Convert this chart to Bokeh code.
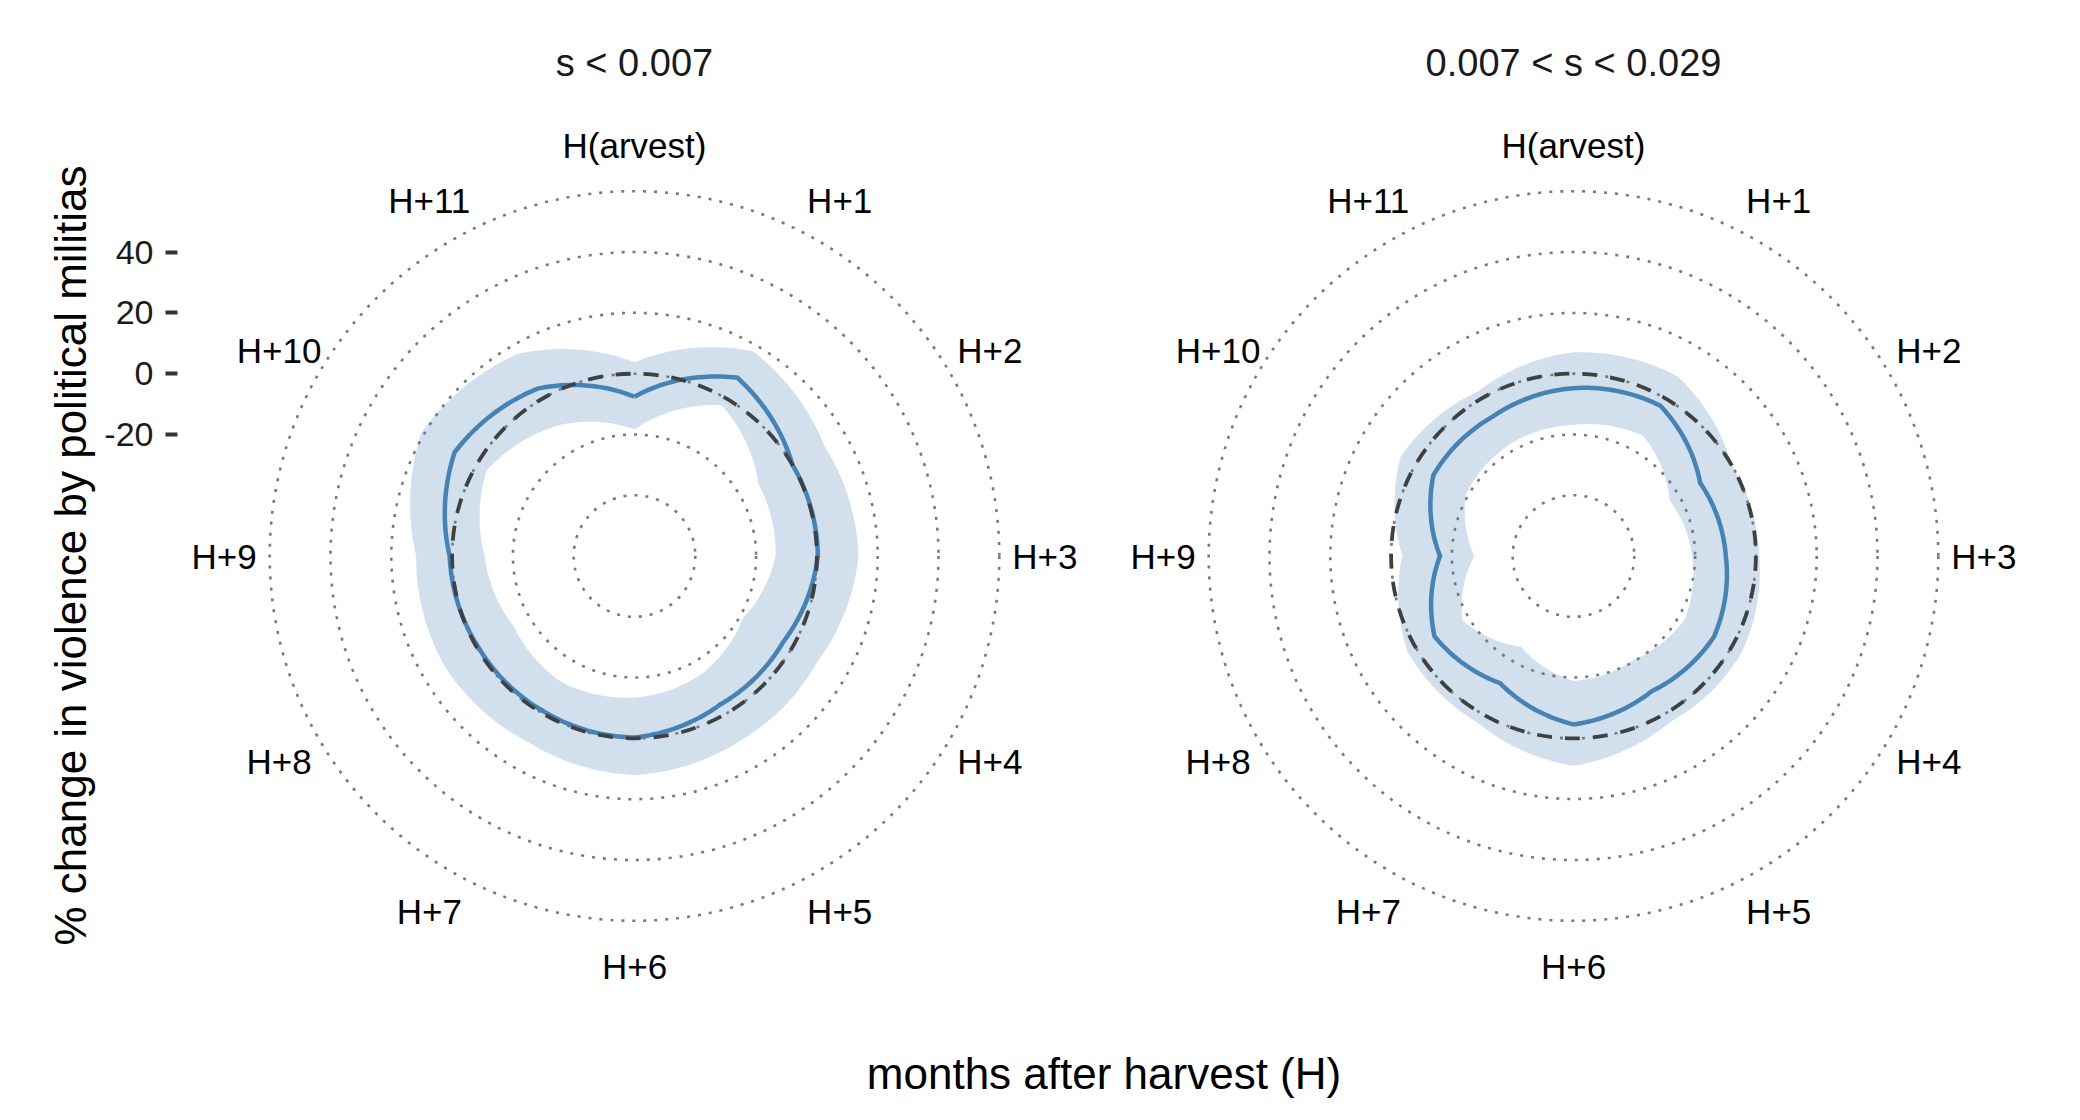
import numpy as np
from bokeh.plotting import figure
from bokeh.models import Range1d, FixedTicker
from bokeh.core.properties import value
from bokeh.embed import file_html
from bokeh.resources import INLINE

# ---------------- data ----------------
month_labels = ["H(arvest)", "H+1", "H+2", "H+3", "H+4", "H+5",
                "H+6", "H+7", "H+8", "H+9", "H+10", "H+11"]
months = list(range(12))

panel_titles = ["s < 0.007", "0.007 < s < 0.029"]

# panel 1 : s < 0.007
p1_mean = [-7.6, 7.7, 0.0, 0.3, -3.5, -3.6, -0.3, -0.8, -0.5, 0.8, 8.3, 3.6]
p1_lower = [-18.4, -2.7, -12.9, -13.6, -18.9, -15.4, -13.4, -12.1, -14.0, -10.7, -3.8, -10.3]
p1_upper = [3.7, 17.8, 12.2, 13.7, 9.5, 10.0, 12.0, 10.5, 12.2, 11.8, 21.0, 16.8]

# panel 2 : 0.007 < s < 0.029
p2_mean = [-4.8, -2.9, -11.9, -9.9, -6.7, -8.6, -4.6, -11.7, -7.2, -16.1, -6.8, -7.0]
p2_lower = [-16.9, -14.3, -23.5, -21.0, -17.9, -20.5, -18.9, -25.5, -17.8, -27.4, -19.2, -17.7]
p2_upper = [7.0, 8.3, 0.0, 1.1, 3.8, 3.2, 9.0, 3.2, 3.0, -3.7, 5.6, 2.6]

reference_value = 0
grid_breaks = [-40, -20, 0, 20, 40, 60]
y_ticks = [-20, 0, 20, 40]
y_tick_labels = ["-20", "0", "20", "40"]
r_limits = (-60, 60)

# ---------------- layout constants (pixels) ----------------
W, H = 2080, 1120
K = 3.04                 # pixels per data unit
FRAME_L, FRAME_B = 177, 10
CX_PX = [634, 1573]      # panel centres
CY_PX = 555.5

R_MIN, R_MAX = r_limits
CY = R_MIN               # y of the polar centre -> radial axis reads the value directly
centres_x = [(c - CX_PX[0]) / K for c in CX_PX]

x0 = (FRAME_L - CX_PX[0]) / K
x1 = (W - CX_PX[0]) / K
y1 = CY + CY_PX / K
y0 = CY - ((H - FRAME_B) - CY_PX) / K


def polar_path(vals, cx, n=30):
    v = np.asarray(list(vals) + [vals[0]], dtype=float)
    th = np.deg2rad(np.arange(len(v)) * 360.0 / len(months))
    t = np.linspace(0.0, 1.0, n, endpoint=False)
    ths, rs = [], []
    for i in range(len(v) - 1):
        ths.append(th[i] + (th[i + 1] - th[i]) * t)
        rs.append(v[i] + (v[i + 1] - v[i]) * t)
    ths.append(th[-1:])
    rs.append(v[-1:])
    ths = np.concatenate(ths)
    rad = np.concatenate(rs) - R_MIN
    return cx + rad * np.sin(ths), CY + rad * np.cos(ths)


p = figure(width=W, height=H, x_range=Range1d(x0, x1), y_range=Range1d(y0, y1),
           x_axis_location=None, y_axis_location="left",
           output_backend="svg", toolbar_location=None,
           min_border_left=FRAME_L, min_border_right=0, min_border_top=0,
           min_border_bottom=FRAME_B)
p.grid.visible = False
p.outline_line_color = None
p.background_fill_color = "white"
p.border_fill_color = "white"

FONT = "Liberation Sans"

# grid circles
gx, gy, gr = [], [], []
for cx in centres_x:
    for b in grid_breaks:
        gx.append(cx)
        gy.append(CY)
        gr.append(b - R_MIN)
p.circle(x=gx, y=gy, radius=gr, fill_color=None, line_color="#7A7A7A",
         line_width=2.6, line_dash="3 8")

panels = [(p1_mean, p1_lower, p1_upper), (p2_mean, p2_lower, p2_upper)]

# ribbons
rx, ry = [], []
for (mean, lo, up), cx in zip(panels, centres_x):
    ox, oy = polar_path(up, cx)
    ix, iy = polar_path(lo, cx)
    rx.append([[list(ox), list(ix[::-1])]])
    ry.append([[list(oy), list(iy[::-1])]])
p.multi_polygons(xs=rx, ys=ry, fill_color="steelblue", fill_alpha=0.25, line_color=None)

# mean lines
for (mean, lo, up), cx in zip(panels, centres_x):
    mx, my = polar_path(mean, cx)
    p.line(mx, my, line_color="steelblue", line_width=4.5, line_join="miter")

# reference (zero) circle
p.circle(x=centres_x, y=[CY, CY], radius=[reference_value - R_MIN] * 2,
         fill_color=None, line_color="#404040", line_width=3.8, line_dash="15 13")

# month labels
R_LAB = 1.125 * (R_MAX - R_MIN)
lx, ly, lt = [], [], []
for cx in centres_x:
    for m, lab in zip(months, month_labels):
        a = np.deg2rad(m * 30.0)
        lx.append(cx + R_LAB * np.sin(a))
        ly.append(CY + R_LAB * np.cos(a))
        lt.append(lab)
p.text(x=lx, y=ly, text=lt, text_font=value(FONT), text_font_size="35px",
       text_color="black", text_align="center", text_baseline="middle")

# panel titles
ty = CY + (CY_PX - 62.5) / K
p.text(x=centres_x, y=[ty, ty], text=panel_titles, text_font=value(FONT),
       text_font_size="38px", text_color="#1A1A1A", text_align="center",
       text_baseline="middle")

# x-axis title (centre of the panel area)
xt_x = ((CX_PX[0] + CX_PX[1]) / 2 - CX_PX[0]) / K
xt_y = CY + (CY_PX - 1072.5) / K
p.text(x=[xt_x], y=[xt_y], text=["months after harvest (H)"], text_font=value(FONT),
       text_font_size="44px", text_color="black", text_align="center",
       text_baseline="middle")

# radial axis
ax = p.yaxis[0]
ax.ticker = FixedTicker(ticks=y_ticks)
ax.major_label_overrides = {t: s for t, s in zip(y_ticks, y_tick_labels)}
ax.axis_line_color = None
ax.major_tick_line_color = "#333333"
ax.major_tick_line_width = 4
ax.major_tick_out = 12
ax.major_tick_in = 0
ax.minor_tick_line_color = None
ax.major_label_standoff = 12
ax.major_label_text_font = FONT
ax.major_label_text_font_size = "34px"
ax.major_label_text_color = "#1A1A1A"
ax.axis_label = "% change in violence by political militias"
ax.axis_label_text_font = FONT
ax.axis_label_text_font_size = "44px"
ax.axis_label_text_font_style = "normal"
ax.axis_label_text_color = "black"
ax.axis_label_standoff = 6

open("out.html", "w").write(file_html(p, INLINE))
